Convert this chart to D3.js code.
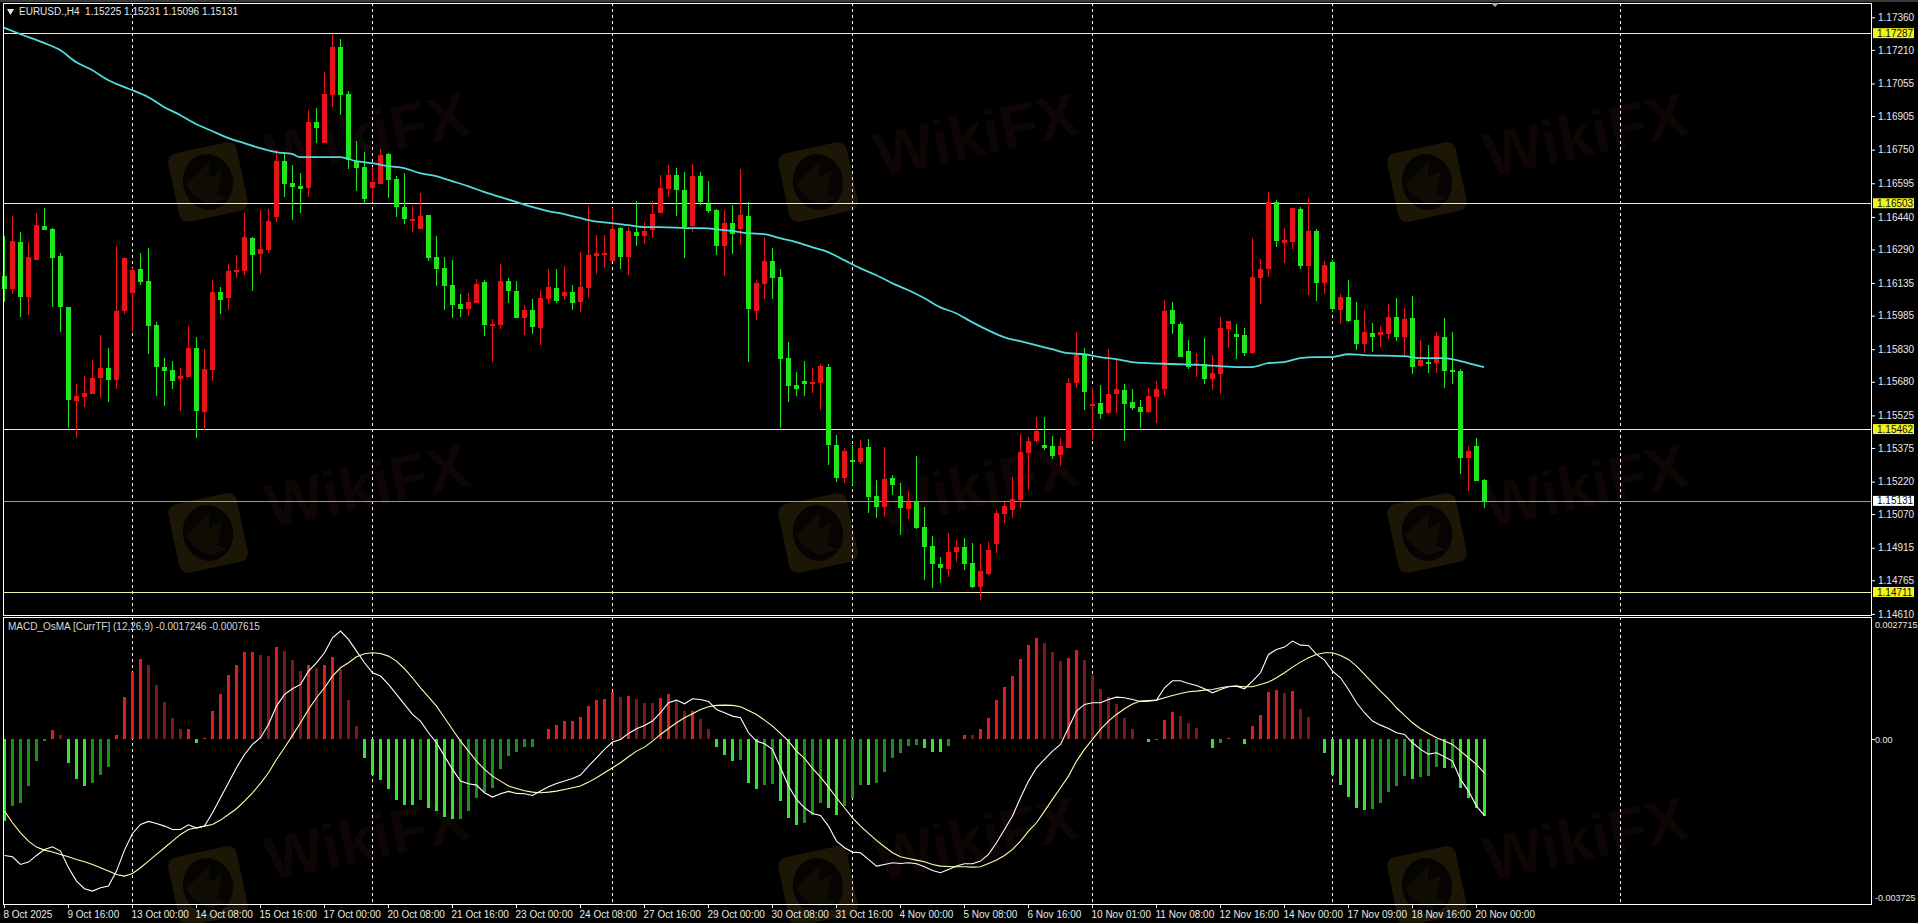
<!DOCTYPE html>
<html><head><meta charset="utf-8">
<script src="https://cdn.jsdelivr.net/npm/d3@7/dist/d3.min.js"></script>
<style>
html,body{margin:0;padding:0;background:#000;overflow:hidden}
svg{display:block}
text{font-family:"Liberation Sans",Arial,sans-serif}
</style></head><body><div id="chart"></div>
<script>
// Prices in points (1 point = 0.00001)
const opens = [
116167,116107,116324,116071,116241,116397,116383,116259,116024,115590,
115609,115623,115697,115743,115687,116005,116089,116199,116144,115941,
115748,115734,115692,115702,115835,115540,115734,116094,116066,116186,
116190,116342,116269,116287,116439,116697,116596,116582,116573,116878,
116780,117002,117224,117007,116697,116670,116573,116592,116730,116615,
116486,116425,116383,116448,116255,116204,116126,116038,116014,116042,
116140,115941,115941,116144,116098,115973,116010,115927,116061,116112,
116075,116094,116047,116112,116259,116269,116236,116388,116255,116370,
116351,116379,116457,116569,116633,116564,116397,116628,116500,116471,
116305,116411,116383,116443,116005,116131,116236,116163,115789,115664,
115682,115673,115673,115748,115388,115235,115318,115309,115379,115152,
115102,115235,115152,115092,115125,115009,114922,114839,114816,114894,
114918,114843,114733,114793,114932,115070,115088,115134,115351,115406,
115388,115383,115342,115374,115673,115803,115572,115581,115535,115623,
115641,115586,115563,115540,115609,115645,116010,115946,115821,115757,
115762,115692,115716,115923,115900,115895,115812,116158,116199,116509,
116319,116324,116476,116213,116374,116135,116232,116010,116071,115964,
115854,115904,115895,115900,115978,115886,115973,115752,115771,115766,
115886,115734,115729,115328,115383,115225];
const highs = [
116351,116443,116370,116324,116457,116481,116388,116273,116024,115669,
115706,115780,115895,115835,116305,116250,116204,116273,116296,115955,
115789,115775,115743,115936,115886,115830,116149,116117,116223,116264,
116457,116347,116471,116476,116748,116734,116679,116642,116933,116942,
117108,117284,117261,117020,116789,116739,116670,116752,116734,116628,
116642,116490,116550,116448,116351,116255,116241,116085,116089,116153,
116149,115969,116223,116158,116144,116033,116061,116103,116199,116199,
116213,116126,116278,116490,116356,116356,116481,116393,116393,116513,
116416,116513,116633,116679,116665,116647,116684,116647,116605,116476,
116471,116495,116660,116509,116149,116347,116296,116199,115863,115724,
115775,115743,115762,115762,115434,115374,115388,115411,115416,115226,
115379,115249,115212,115175,115337,115102,114968,114871,114982,114950,
114959,114936,114932,114941,115088,115125,115240,115439,115425,115517,
115517,115429,115420,115697,115909,115835,115655,115664,115830,115784,
115669,115645,115595,115650,115682,116056,116047,115955,115872,115812,
115881,115803,115978,115959,115946,115927,116342,116246,116555,116518,
116388,116481,116486,116527,116383,116236,116241,116085,116149,116047,
116010,115950,115936,116038,116066,116019,116075,115872,115849,115909,
115973,115909,115739,115383,115420,115231];
const lows = [
116047,116085,115978,115987,116241,116379,116024,115909,115466,115420,
115563,115623,115604,115586,115645,115992,115909,116126,115808,115613,
115567,115645,115544,115702,115420,115457,115682,115992,116010,116158,
116172,116098,116177,116273,116416,116532,116425,116457,116532,116780,
116780,116947,116910,116660,116559,116500,116509,116592,116527,116439,
116407,116370,116383,116236,116121,116010,115973,115978,115982,116042,
115890,115771,115923,116042,115973,115895,115900,115849,116038,116042,
116056,116010,116001,116066,116177,116204,116236,116199,116172,116305,
116315,116342,116457,116532,116443,116250,116370,116495,116457,116264,
116167,116269,116310,115771,115964,116061,116061,115466,115586,115613,
115613,115627,115549,115295,115217,115212,115203,115300,115074,115051,
115056,115157,114973,115046,115000,114765,114728,114751,114779,114848,
114811,114728,114673,114788,114889,115028,115051,115097,115180,115397,
115365,115323,115290,115374,115650,115549,115411,115508,115531,115535,
115406,115549,115466,115535,115489,115618,115900,115794,115739,115702,
115669,115641,115623,115835,115784,115798,115812,116038,116163,116301,
116227,116291,116199,116080,116052,116085,116001,115946,115955,115826,
115812,115817,115840,115877,115867,115798,115716,115748,115720,115720,
115650,115669,115254,115175,115222,115096];
const closes = [
116107,116328,116071,116255,116402,116379,116250,116024,115595,115613,
115627,115697,115743,115687,116005,116250,116195,116140,115936,115748,
115729,115682,115706,115835,115544,115739,116094,116056,116190,116195,
116347,116264,116291,116420,116697,116592,116578,116569,116878,116850,
117007,117224,117002,116702,116665,116522,116601,116725,116610,116486,
116430,116430,116443,116250,116199,116121,116033,116014,116047,116131,
115941,115946,116144,116098,115973,116010,115932,116066,116117,116052,
116094,116042,116117,116264,116273,116273,116383,116255,116374,116351,
116374,116453,116573,116633,116564,116393,116628,116509,116467,116305,
116411,116361,116448,116014,116135,116236,116158,115784,115660,115645,
115669,115678,115752,115388,115235,115360,115309,115374,115148,115102,
115231,115203,115097,115125,115005,114918,114839,114820,114894,114918,
114839,114733,114806,114903,115074,115106,115138,115356,115406,115452,
115374,115337,115383,115673,115803,115632,115577,115531,115623,115645,
115577,115558,115540,115613,115645,116005,115946,115794,115748,115766,
115692,115720,115927,115959,115886,115812,116163,116199,116509,116328,
116333,116481,116213,116374,116135,116218,116014,116071,115959,115854,
115909,115886,115909,115978,115886,115969,115748,115780,115762,115890,
115729,115725,115328,115360,115222,115131];

// Moving average: bar index and value in points
const maBars = [0,2,5,7,9,11,13,15,16,18,20,22,24,26,28,30,32,34,36,37,42,44,46,48,50,52,54,56,58,60,62,64,66,68,70,72,73,76,78,80,82,86,87,90,92,93,95,97,99,101,103,105,107,109,111,113,115,117,119,121,123,125,127,128,129,131,133,135,137,139,141,143,146,150,154,156,158,160,162,164,166,168,170,175,177,180,181,183,185];
const maValues = [117312,117283,117242,117209,117154,117117,117071,117039,117025,116993,116947,116910,116868,116836,116804,116780,116757,116739,116730,116716,116716,116697,116688,116674,116665,116642,116628,116605,116582,116555,116532,116509,116486,116467,116453,116435,116425,116411,116402,116393,116393,116388,116388,116379,116370,116365,116361,116342,116324,116301,116278,116241,116204,116172,116135,116103,116066,116024,115996,115955,115918,115886,115867,115858,115849,115830,115812,115807,115794,115784,115771,115766,115762,115757,115748,115748,115766,115771,115789,115794,115794,115807,115803,115798,115789,115789,115784,115766,115748];

// Indicator values in millionths
const osma = [
-1849,-1509,-1434,-1056,-490,-38,211,91,-528,-905,
-1056,-996,-807,-619,91,966,1532,1811,1683,1237,
853,475,226,226,-91,30,634,1019,1449,1683,
1977,1977,1901,1886,2082,1992,1788,1547,1683,1622,
1683,1864,1584,890,302,-415,-815,-928,-1132,-1381,
-1494,-1494,-1381,-1547,-1630,-1750,-1811,-1796,-1630,-1320,
-1185,-1109,-679,-377,-287,-181,-174,15,241,317,
407,407,498,755,890,920,1071,966,981,920,
830,815,943,1019,890,634,634,453,226,-174,
-362,-498,-475,-981,-1132,-1041,-1019,-1396,-1788,-1947,
-1886,-1713,-1434,-1562,-1720,-1509,-1335,-1041,-1041,-996,
-732,-430,-302,-151,-128,-204,-279,-287,-151,15,
106,91,226,475,890,1192,1434,1826,2128,2286,
2188,1977,1773,1849,2015,1796,1449,1132,966,792,
490,226,0,-60,-23,430,626,528,377,264,
0,-196,-75,23,0,-113,302,543,1064,1109,
1041,1086,694,513,0,-317,-807,-1034,-1298,-1562,
-1607,-1584,-1449,-1192,-1056,-830,-905,-845,-830,-619,
-656,-641,-1109,-1335,-1562,-1735];
const macdMain = [
-2626,-2656,-2829,-2777,-2626,-2490,-2429,-2528,-2905,-3207,
-3380,-3433,-3358,-3320,-2980,-2505,-2128,-1924,-1856,-1901,
-1962,-2037,-2037,-1932,-2007,-1962,-1660,-1320,-981,-641,
-340,-113,38,340,755,1019,1147,1245,1547,1735,
1962,2301,2452,2264,1999,1735,1509,1434,1245,1019,
792,566,415,151,-75,-377,-679,-943,-1003,-1034,
-1207,-1305,-1230,-1177,-1222,-1230,-1268,-1169,-1071,-996,
-943,-883,-807,-604,-415,-226,-60,0,136,241,
317,415,604,830,890,807,920,905,860,679,
604,528,490,151,-38,-98,-226,-641,-1056,-1358,
-1547,-1675,-1720,-1962,-2301,-2452,-2550,-2565,-2716,-2867,
-2829,-2792,-2807,-2792,-2814,-2882,-2965,-3018,-2943,-2867,
-2814,-2814,-2754,-2603,-2339,-2037,-1735,-1320,-943,-641,
-453,-264,-113,264,641,792,830,830,905,958,
943,905,860,868,890,1169,1328,1328,1268,1222,
1147,1056,1132,1192,1207,1147,1320,1509,1924,2037,
2090,2226,2135,2128,1924,1796,1547,1396,1132,830,
604,415,324,249,151,113,-75,-226,-332,-302,
-392,-490,-905,-1169,-1509,-1725];
const macdSignal = [
-1622,-1886,-2113,-2301,-2437,-2505,-2550,-2603,-2656,-2716,
-2769,-2829,-2905,-2980,-3056,-3093,-3033,-2905,-2754,-2603,
-2452,-2301,-2150,-2037,-1999,-1962,-1924,-1826,-1698,-1569,
-1396,-1207,-996,-755,-453,-189,91,377,679,943,
1169,1434,1622,1735,1871,1939,1962,1947,1886,1773,
1600,1396,1169,966,755,490,226,-38,-264,-490,
-679,-830,-943,-1056,-1109,-1162,-1192,-1207,-1192,-1169,
-1132,-1094,-1056,-966,-868,-755,-641,-528,-392,-264,
-174,-38,113,249,377,490,581,679,739,770,
777,770,739,656,566,438,302,136,-38,-264,
-430,-656,-853,-1079,-1320,-1547,-1773,-1962,-2128,-2286,
-2429,-2565,-2656,-2694,-2731,-2769,-2829,-2867,-2875,-2882,
-2882,-2890,-2882,-2807,-2731,-2626,-2490,-2301,-2075,-1886,
-1622,-1358,-1094,-830,-490,-226,0,226,415,566,
694,800,868,883,890,943,996,1041,1079,1094,
1117,1132,1169,1200,1207,1192,1192,1245,1298,1396,
1509,1637,1750,1849,1924,1962,1962,1901,1811,1660,
1471,1283,1094,920,717,543,377,241,136,38,
-38,-113,-264,-415,-566,-762];

const priceTicks = [1.17360,1.17210,1.17055,1.16905,1.16750,1.16595,1.16440,1.16290,1.16135,1.15985,1.15830,1.15680,1.15525,1.15375,1.15220,1.15070,1.14915,1.14765,1.14610];
const levels = [1.17287,1.16503,1.15462,1.14711];
const lastPrice = 1.15131;
const macdTickLabels = ["0.0027715","0.00","-0.003725"];
const timeLabels = ["8 Oct 2025","9 Oct 16:00","13 Oct 00:00","14 Oct 08:00","15 Oct 16:00","17 Oct 00:00","20 Oct 08:00","21 Oct 16:00","23 Oct 00:00","24 Oct 08:00","27 Oct 16:00","29 Oct 00:00","30 Oct 08:00","31 Oct 16:00","4 Nov 00:00","5 Nov 08:00","6 Nov 16:00","10 Nov 01:00","11 Nov 08:00","12 Nov 16:00","14 Nov 00:00","17 Nov 09:00","18 Nov 16:00","20 Nov 00:00"];
const separatorBars = [16,46,76,106,136,166,202];
const priceTitle = "EURUSD.,H4  1.15225 1.15231 1.15096 1.15131";
const macdTitle = "MACD_OsMA [CurrTF] (12,26,9) -0.0017246 -0.0007615";

const W = 1918, H = 923, L = 3, R = 1871, T = 3, MB = 615, IT = 617, IB = 904;
const POINT = 1e-5, MICRO = 1e-6;
const RED = "#e8141a", GREEN = "#1fe61f", RED_H = "#dc1f1c", RED_D = "#7e1a16", GREEN_H = "#36e436", GREEN_D = "#1f8e1f";

const svg = d3.select("#chart").append("svg").attr("width", W).attr("height", H).style("background", "#000");
const x = d3.scaleLinear().domain([0, 233.375]).range([4, R]);
const y = d3.scaleLinear().domain([1.17426, 1.14605]).range([T, MB]);
const yi = d3.scaleLinear().domain([0.0027715, -0.003725]).range([IT, IB]);
const crisp = v => Math.round(v) + 0.5;

// Window chrome
svg.append("rect").attr("x", 0).attr("y", 0).attr("width", W).attr("height", 2).attr("fill", "#3a3a3a");

// Watermarks
const wm = svg.append("g");
[208, 818, 1427].forEach(cx => [182, 533, 886].forEach(cy => {
  const g = wm.append("g").attr("transform", `translate(${cx},${cy}) rotate(-12)`);
  g.append("rect").attr("x", -35).attr("y", -35).attr("width", 70).attr("height", 70).attr("rx", 9).attr("fill", "#1b1605");
  g.append("ellipse").attr("rx", 25).attr("ry", 28).attr("fill", "#050402");
  g.append("path").attr("d", "M-22,-2 L6,-20 L2,-4 L16,-8 L6,14 L16,20 L-4,22 Q-18,12 -22,-2Z").attr("fill", "#1b1605").attr("opacity", 0.5);
  g.append("text").attr("x", 62).attr("y", 8).attr("font-size", 62).attr("font-weight", 700).attr("fill", "#0d0605").text("WikiFX");
}));

// Period separators
const seps = svg.append("g");
[[T, MB], [IT, IB]].forEach(([a, b]) => {
  seps.selectAll(null).data(separatorBars).join("line")
    .attr("x1", d => crisp(x(d))).attr("x2", d => crisp(x(d))).attr("y1", a).attr("y2", b)
    .attr("stroke", "#fff").attr("stroke-width", 1).attr("stroke-dasharray", "3,3");
});

// Horizontal levels
const lv = svg.append("g");
lv.selectAll(null).data(levels).join("line")
  .attr("x1", L).attr("x2", R).attr("y1", d => crisp(y(d))).attr("y2", d => crisp(y(d)))
  .attr("stroke", "#f2f2ac").attr("stroke-width", 1);
lv.append("line").attr("x1", L).attr("x2", R).attr("y1", crisp(y(lastPrice))).attr("y2", crisp(y(lastPrice)))
  .attr("stroke", "#9a9a9a").attr("stroke-width", 1);

// Candles
const bars = d3.range(opens.length);
const col = i => closes[i] >= opens[i] ? RED : GREEN;
const cg = svg.append("g").attr("shape-rendering", "crispEdges");
cg.selectAll("line").data(bars).join("line")
  .attr("x1", i => x(i) + 0.5).attr("x2", i => x(i) + 0.5)
  .attr("y1", i => y(highs[i] * POINT)).attr("y2", i => y(lows[i] * POINT))
  .attr("stroke", col).attr("stroke-width", 1);
cg.selectAll("rect").data(bars).join("rect")
  .attr("x", i => x(i) - 2).attr("width", 5)
  .attr("y", i => y(Math.max(opens[i], closes[i]) * POINT))
  .attr("height", i => Math.max(1.5, Math.abs(y(opens[i] * POINT) - y(closes[i] * POINT))))
  .attr("fill", col);

// Moving average
svg.append("path").datum(maBars)
  .attr("d", d3.line().curve(d3.curveMonotoneX).x(b => x(b)).y((b, i) => y(maValues[i] * POINT)))
  .attr("fill", "none").attr("stroke", "#52dcdc").attr("stroke-width", 1.8);

// Histogram (four colours: rising/falling either side of zero)
const histColor = i => {
  const v = osma[i], p = i ? osma[i - 1] : 0;
  if (v >= 0) return v >= p ? RED_H : RED_D;
  return v <= p ? GREEN_H : GREEN_D;
};
svg.append("g").attr("shape-rendering", "crispEdges").selectAll("rect").data(bars).join("rect")
  .attr("x", i => x(i) - 1).attr("width", 3)
  .attr("y", i => Math.min(yi(0), yi(osma[i] * MICRO)))
  .attr("height", i => Math.abs(yi(osma[i] * MICRO) - yi(0)))
  .attr("fill", histColor);

// MACD lines
const macdLine = arr => d3.line().x((d, i) => x(i) + 0.5).y(d => yi(d * MICRO))(arr);
svg.append("path").attr("d", macdLine(macdSignal)).attr("fill", "none").attr("stroke", "#ffffb0").attr("stroke-width", 1.1);
svg.append("path").attr("d", macdLine(macdMain)).attr("fill", "none").attr("stroke", "#ffffff").attr("stroke-width", 1.1);

// Frames
const frame = svg.append("g").attr("fill", "none").attr("stroke", "#fff").attr("stroke-width", 1).attr("shape-rendering", "crispEdges");
frame.append("rect").attr("x", L + 0.5).attr("y", T + 0.5).attr("width", R - L).attr("height", MB - T);
frame.append("rect").attr("x", L + 0.5).attr("y", IT + 0.5).attr("width", R - L).attr("height", IB - IT);

// Axes
const TXT = "#e8e8e8", FS = 10;
const priceAxis = svg.append("g").attr("transform", `translate(${R + 1},0)`)
  .call(d3.axisRight(y).tickValues(priceTicks).tickFormat(d3.format(".5f")).tickSize(3).tickPadding(3));
const timeAxis = svg.append("g").attr("transform", `translate(0,${IB + 1})`)
  .call(d3.axisBottom(x).tickValues(timeLabels.map((_, i) => i * 8)).tickFormat((d, i) => timeLabels[i]).tickSize(3).tickPadding(3));
[priceAxis, timeAxis].forEach(a => {
  a.select(".domain").remove();
  a.attr("font-family", null).attr("font-size", null);
  a.selectAll("line").attr("stroke", "#fff");
  a.selectAll("text").attr("fill", TXT).attr("font-size", FS);
});
timeAxis.selectAll("text").attr("text-anchor", "start").attr("dx", -1);

// Indicator labels
[[624.5, macdTickLabels[0]], [yi(0) + 0.5, macdTickLabels[1]], [897.5, macdTickLabels[2]]].forEach(([py, t]) => {
  svg.append("text").attr("x", 1875).attr("y", py).attr("dy", "0.34em").attr("fill", TXT).attr("font-size", 9).text(t);
});
svg.selectAll(null).data([0]).join("line").attr("x1", R + 1).attr("x2", R + 4).attr("y1", yi(0)).attr("y2", yi(0)).attr("stroke", "#fff");

// Price tags
levels.forEach(v => tag(v, "#f2f21e"));
tag(lastPrice, "#fff");
function tag(v, fill) {
  const py = y(v);
  svg.append("rect").attr("x", 1873).attr("y", py - 5).attr("width", 41).attr("height", 10).attr("fill", fill);
  svg.append("text").attr("x", 1877).attr("y", py).attr("dy", "0.36em").attr("fill", "#111").attr("font-size", FS).text(v.toFixed(5));
}

// Titles
svg.append("path").attr("d", "M7,9 L14,9 L10.5,15 Z").attr("fill", "#e8e8e8");
svg.append("text").attr("x", 19).attr("y", 12).attr("dy", "0.34em").attr("fill", TXT).attr("font-size", FS).attr("xml:space", "preserve").style("white-space", "pre").text(priceTitle);
svg.append("text").attr("x", 8).attr("y", 627).attr("dy", "0.34em").attr("fill", "#d8d8d8").attr("font-size", FS).text(macdTitle);
svg.append("path").attr("d", "M1491,3 L1499,3 L1495,7 Z").attr("fill", "#aaa");
</script></body></html>
